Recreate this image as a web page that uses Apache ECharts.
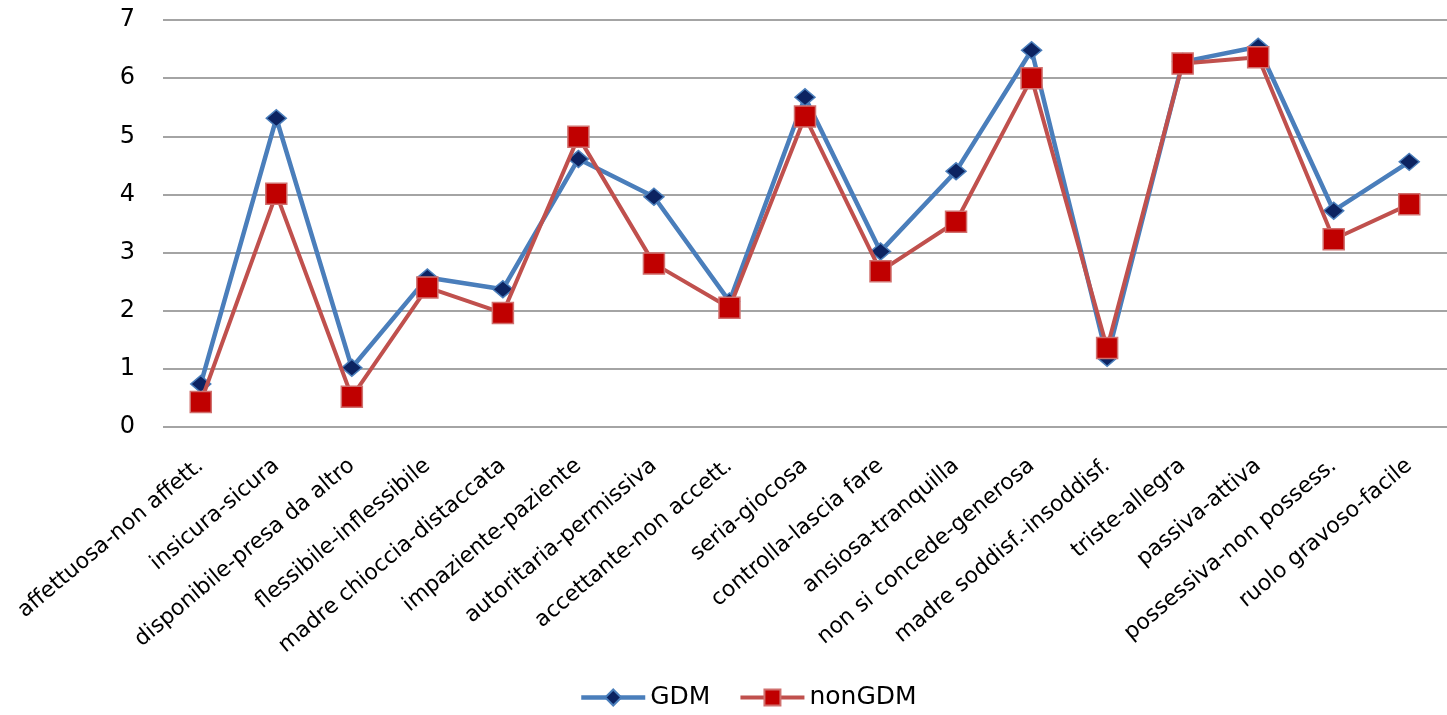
<!DOCTYPE html>
<html>
<head>
<meta charset="utf-8">
<script src="https://cdn.jsdelivr.net/npm/echarts@6/dist/echarts.min.js"></script>
<style>
  html, body { margin: 0; padding: 0; background: #ffffff; }
  #chart { width: 1447px; height: 715px; }
</style>
</head>
<body>
<div id="chart"></div>
<script>
// Maternal attribute pairs (semantic differential items)
const categories = [
  'affettuosa-non affett.', 'insicura-sicura', 'disponibile-presa da altro',
  'flessibile-inflessibile', 'madre chioccia-distaccata', 'impaziente-paziente',
  'autoritaria-permissiva', 'accettante-non accett.', 'seria-giocosa',
  'controlla-lascia fare', 'ansiosa-tranquilla', 'non si concede-generosa',
  'madre soddisf.-insoddisf.', 'triste-allegra', 'passiva-attiva',
  'possessiva-non possess.', 'ruolo gravoso-facile'
];

// Mean scores per group
const gdmValues = [0.74, 5.31, 1.02, 2.57, 2.37, 4.61, 3.96, 2.16, 5.67, 3.02, 4.40, 6.48, 1.19, 6.28, 6.54, 3.72, 4.56];
const nonGdmValues = [0.43, 4.01, 0.52, 2.40, 1.96, 4.99, 2.81, 2.05, 5.34, 2.68, 3.53, 6.00, 1.36, 6.25, 6.36, 3.23, 3.83];

const yTicks = { min: 0, max: 7, interval: 1 };

const chart = echarts.init(document.getElementById('chart'), null, { renderer: 'canvas' });

chart.setOption({
  animation: false,
  backgroundColor: '#ffffff',
  textStyle: { fontFamily: 'DejaVu Sans' },
  grid: { left: 163, top: 20, width: 1298, bottom: 288, containLabel: false },
  legend: {
    bottom: 0,
    left: 574,
    itemWidth: 64,
    itemHeight: 20,
    itemGap: 28,
    textStyle: { fontSize: 25, color: '#000000', fontFamily: 'DejaVu Sans' },
    data: [
      { name: 'GDM', lineStyle: { width: 4.5, color: '#4a7ebb' } },
      { name: 'nonGDM', lineStyle: { width: 4, color: '#c0504d' } }
    ]
  },
  xAxis: {
    type: 'category',
    data: categories,
    boundaryGap: true,
    axisLine: { show: false },
    axisTick: { show: false },
    axisLabel: {
      interval: 0,
      rotate: 40,
      margin: 36,
      fontSize: 22,
      color: '#000000',
      fontFamily: 'DejaVu Sans'
    }
  },
  yAxis: {
    type: 'value',
    min: yTicks.min,
    max: yTicks.max,
    interval: yTicks.interval,
    axisLine: { show: false },
    axisTick: { show: false },
    axisLabel: { fontSize: 24, color: '#000000', margin: 28, fontFamily: 'DejaVu Sans' },
    splitLine: { show: true, lineStyle: { color: '#868686', width: 1.5 } }
  },
  series: [
    {
      name: 'GDM',
      type: 'line',
      data: gdmValues,
      symbol: 'diamond',
      symbolSize: [20, 17],
      lineStyle: { color: '#4a7ebb', width: 4.5 },
      itemStyle: { color: '#0c2361', borderColor: '#4a7ebb', borderWidth: 1.5 },
      z: 2
    },
    {
      name: 'nonGDM',
      type: 'line',
      data: nonGdmValues,
      symbol: 'rect',
      symbolSize: 21,
      lineStyle: { color: '#c0504d', width: 4 },
      itemStyle: { color: '#c00000', borderColor: '#d0706e', borderWidth: 1.5 },
      z: 3
    }
  ]
});
</script>
</body>
</html>
